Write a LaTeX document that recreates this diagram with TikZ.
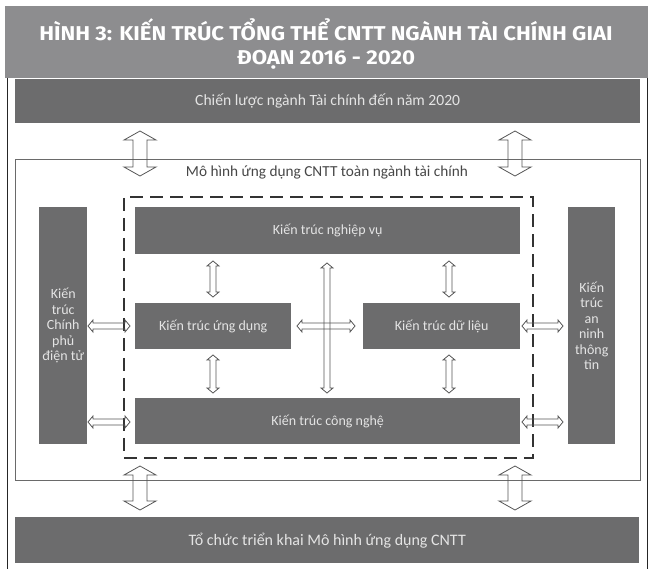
\documentclass[tikz,border=0pt]{standalone}
\usepackage{fontspec}
\setmainfont{Carlito}
\newfontfamily\titlefont{Fira Sans}
\usetikzlibrary{calc}
\definecolor{bannergray}{HTML}{8D8D8F}
\definecolor{boxgray}{HTML}{6C6C6D}
\definecolor{boxtext}{HTML}{E4E4E4}
\definecolor{linegray}{HTML}{6A6A6A}
\definecolor{arrgray}{HTML}{555555}
\newcommand\vdarr[5]{%
  \draw[arrline] let \p1=(#1), \p2=(#2) in
   (\p1) -- (\x1+#3,\y1-#5) -- (\x1+#4,\y1-#5) -- (\x2+#4,\y2+#5) -- (\x2+#3,\y2+#5)
   -- (\p2) -- (\x2-#3,\y2+#5) -- (\x2-#4,\y2+#5) -- (\x1-#4,\y1-#5) -- (\x1-#3,\y1-#5) -- cycle;}
\newcommand\hdarr[5]{%
  \draw[arrline] let \p1=(#1), \p2=(#2) in
   (\p1) -- (\x1+#5,\y1+#3) -- (\x1+#5,\y1+#4) -- (\x2-#5,\y2+#4) -- (\x2-#5,\y2+#3)
   -- (\p2) -- (\x2-#5,\y2-#3) -- (\x2-#5,\y2-#4) -- (\x1+#5,\y1-#4) -- (\x1+#5,\y1-#3) -- cycle;}
\begin{document}
\begin{tikzpicture}[x=1pt,y=-1pt,
  box/.style={fill=boxgray, draw=none, inner sep=0pt, anchor=north west,
    text=boxtext, font=\fontsize{14}{15.5}\selectfont, align=center},
  bigbox/.style={box, font=\fontsize{15.6}{18}\selectfont},
  arrline/.style={draw=arrgray, line width=0.8pt, line join=miter}]
\useasboundingbox (0,0) rectangle (652,568);
% banner
\node[fill=bannergray, inner sep=0pt, anchor=north west, minimum width=643pt, minimum height=72pt] (banner) at (5,6) {};
\node[text=white, inner sep=0pt] (title) at (326,45)
  {\scalebox{1.11}[1]{\titlefont\bfseries\fontsize{20}{24}\selectfont
   \begin{tabular}{@{}c@{}}HÌNH 3: KIẾN TRÚC TỔNG THỂ CNTT NGÀNH TÀI CHÍNH GIAI\\ĐOẠN 2016 - 2020\end{tabular}}};
% outer frame
\draw[line width=1.5pt, draw=black!85] (7.5,78) -- (7.5,570);
\draw[line width=1.5pt, draw=black!85] (647.5,78) -- (647.5,570);
% top and bottom boxes
\node[bigbox, minimum width=625pt, minimum height=44pt] (strat) at (15,79) {Chiến lược ngành Tài chính đến năm 2020};
\node[bigbox, minimum width=624pt, minimum height=46pt, font=\fontsize{16}{18}\selectfont] (org) at (15,517) {Tổ chức triển khai Mô hình ứng dụng CNTT};
% model frame
\node[draw=linegray, line width=0.8pt, inner sep=0pt, anchor=north west, minimum width=625pt, minimum height=321pt] (model) at (15,159) {};
\node[text=black!72, font=\fontsize{15.3}{18}\selectfont] (modellbl) at (327,172) {Mô hình ứng dụng CNTT toàn ngành tài chính};
% dashed frame
\node[draw=black!80, line width=1.8pt, dash pattern=on 13pt off 7pt, inner sep=0pt, anchor=north west, minimum width=409pt, minimum height=261pt] (core) at (123,196) {};
% side boxes
\node[box, minimum width=48pt, minimum height=237pt] (egov) at (39,207) {Kiến\\trúc\\Chính\\phủ\\điện tử};
\node[box, minimum width=47pt, minimum height=237pt] (sec) at (568,207) {Kiến\\trúc\\an\\ninh\\thông\\tin};
% inner boxes
\node[box, minimum width=385pt, minimum height=47pt] (biz) at (135,207) {Kiến trúc nghiệp vụ};
\node[box, minimum width=156pt, minimum height=46pt] (app) at (135,303) {Kiến trúc ứng dụng};
\node[box, minimum width=157pt, minimum height=46pt] (data) at (363,303) {Kiến trúc dữ liệu};
\node[box, minimum width=385pt, minimum height=46pt] (tech) at (135,398) {Kiến trúc công nghệ};
% arrow end points
\coordinate (s1a) at (140,131); \coordinate (s1b) at (140,176);
\coordinate (s2a) at (515,131); \coordinate (s2b) at (515,176);
\coordinate (o1a) at (140,466); \coordinate (o1b) at (140,510);
\coordinate (o2a) at (515,466); \coordinate (o2b) at (515,510);
\coordinate (ba1) at (213,261); \coordinate (ba2) at (213,297);
\coordinate (bd1) at (449,261); \coordinate (bd2) at (449,297);
\coordinate (at1) at (213,355); \coordinate (at2) at (213,393);
\coordinate (dt1) at (449,355); \coordinate (dt2) at (449,393);
\coordinate (bt1) at (327,263); \coordinate (bt2) at (327,393);
\coordinate (ad1) at (297,326); \coordinate (ad2) at (355,326);
\coordinate (ea1) at (88,326); \coordinate (ea2) at (130,326);
\coordinate (et1) at (88,422); \coordinate (et2) at (130,422);
\coordinate (ds1) at (522,326); \coordinate (ds2) at (563,326);
\coordinate (ts1) at (522,422); \coordinate (ts2) at (563,422);
% big arrows
\vdarr{s1a}{s1b}{16pt}{7pt}{9pt}
\vdarr{s2a}{s2b}{16pt}{7pt}{9pt}
\vdarr{o1a}{o1b}{16pt}{7pt}{9pt}
\vdarr{o2a}{o2b}{16pt}{7pt}{9pt}
% small vertical arrows
\vdarr{ba1}{ba2}{6pt}{3pt}{5pt}
\vdarr{bd1}{bd2}{6pt}{3pt}{5pt}
\vdarr{at1}{at2}{6pt}{3pt}{5pt}
\vdarr{dt1}{dt2}{6pt}{3pt}{5pt}
\vdarr{bt1}{bt2}{6pt}{3pt}{5pt}
% horizontal arrows
\hdarr{ad1}{ad2}{6pt}{3pt}{5pt}
\hdarr{ea1}{ea2}{6pt}{3pt}{5pt}
\hdarr{et1}{et2}{6pt}{3pt}{5pt}
\hdarr{ds1}{ds2}{6pt}{3pt}{5pt}
\hdarr{ts1}{ts2}{6pt}{3pt}{5pt}
\end{tikzpicture}
\end{document}
